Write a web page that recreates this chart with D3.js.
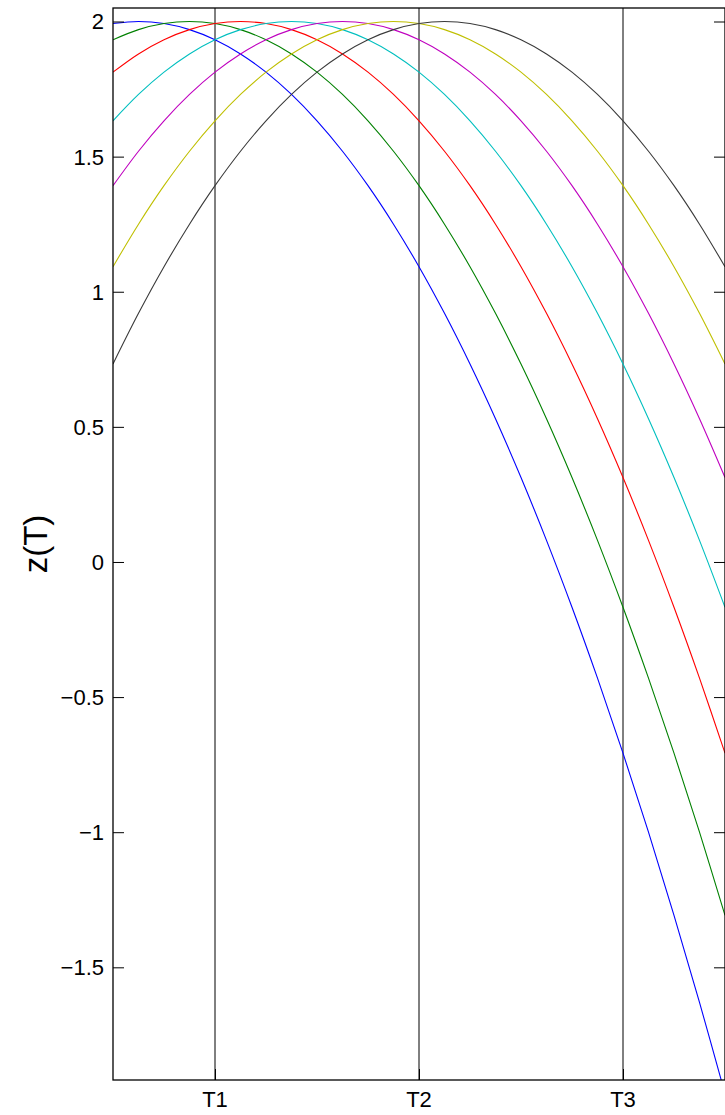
<!DOCTYPE html>
<html>
<head>
<meta charset="utf-8">
<script src="https://cdn.jsdelivr.net/npm/d3@7"></script>
<style>
  html, body { margin: 0; padding: 0; background: #fff; }
  svg { display: block; }
  text { font-family: "Liberation Sans", Arial, Helvetica, sans-serif; fill: #000; }
</style>
</head>
<body>
<svg id="chart" width="725" height="1115"></svg>
<script>
// ---- data ----
const tValues = [0.5, 0.625, 0.75, 0.875, 1, 1.125, 1.25, 1.375, 1.5, 1.625, 1.75, 1.875, 2,
                 2.125, 2.25, 2.375, 2.5, 2.625, 2.75, 2.875, 3, 3.125, 3.25, 3.375, 3.5];
const seriesBlue    = [1.9925, 2.0, 1.9925, 1.97, 1.9325, 1.88, 1.8125, 1.73, 1.6325, 1.52, 1.3925, 1.25, 1.0925, 0.92, 0.7325, 0.53, 0.3125, 0.08, -0.1675, -0.43, -0.7075, -1.0, -1.3075, -1.63, -1.9675];
const seriesGreen   = [1.9325, 1.97, 1.9925, 2.0, 1.9925, 1.97, 1.9325, 1.88, 1.8125, 1.73, 1.6325, 1.52, 1.3925, 1.25, 1.0925, 0.92, 0.7325, 0.53, 0.3125, 0.08, -0.1675, -0.43, -0.7075, -1.0, -1.3075];
const seriesRed     = [1.8125, 1.88, 1.9325, 1.97, 1.9925, 2.0, 1.9925, 1.97, 1.9325, 1.88, 1.8125, 1.73, 1.6325, 1.52, 1.3925, 1.25, 1.0925, 0.92, 0.7325, 0.53, 0.3125, 0.08, -0.1675, -0.43, -0.7075];
const seriesCyan    = [1.6325, 1.73, 1.8125, 1.88, 1.9325, 1.97, 1.9925, 2.0, 1.9925, 1.97, 1.9325, 1.88, 1.8125, 1.73, 1.6325, 1.52, 1.3925, 1.25, 1.0925, 0.92, 0.7325, 0.53, 0.3125, 0.08, -0.1675];
const seriesMagenta = [1.3925, 1.52, 1.6325, 1.73, 1.8125, 1.88, 1.9325, 1.97, 1.9925, 2.0, 1.9925, 1.97, 1.9325, 1.88, 1.8125, 1.73, 1.6325, 1.52, 1.3925, 1.25, 1.0925, 0.92, 0.7325, 0.53, 0.3125];
const seriesYellow  = [1.0925, 1.25, 1.3925, 1.52, 1.6325, 1.73, 1.8125, 1.88, 1.9325, 1.97, 1.9925, 2.0, 1.9925, 1.97, 1.9325, 1.88, 1.8125, 1.73, 1.6325, 1.52, 1.3925, 1.25, 1.0925, 0.92, 0.7325];
const seriesBlack   = [0.7325, 0.92, 1.0925, 1.25, 1.3925, 1.52, 1.6325, 1.73, 1.8125, 1.88, 1.9325, 1.97, 1.9925, 2.0, 1.9925, 1.97, 1.9325, 1.88, 1.8125, 1.73, 1.6325, 1.52, 1.3925, 1.25, 1.0925];
const seriesColors  = ["#0000ff", "#008000", "#ff0000", "#00bfbf", "#bf00bf", "#bfbf00", "#3a3a3a"];
const xTickValues = [1, 2, 3];
const xTickLabels = ["T1", "T2", "T3"];
const yTickValues = [-1.5, -1, -0.5, 0, 0.5, 1, 1.5, 2];
const yLabel = "z(T)";
const xDomain = [0.5, 3.5];
const yDomain = [-1.917, 2.05];

// ---- layout ----
const svg = d3.select("#chart");
const mLeft = 113, mRight = 725, mTop = 8, mBottom = 1080;
const x = d3.scaleLinear().domain(xDomain).range([mLeft, mRight]);
const y = d3.scaleLinear().domain(yDomain).range([mBottom, mTop]);

svg.append("defs").append("clipPath").attr("id", "plotclip")
  .append("rect").attr("x", mLeft).attr("y", mTop).attr("width", mRight - mLeft).attr("height", mBottom - mTop);

const allSeries = [seriesBlue, seriesGreen, seriesRed, seriesCyan, seriesMagenta, seriesYellow, seriesBlack];

// vertical reference lines at T1, T2, T3
svg.append("g").selectAll("line").data(xTickValues).join("line")
  .attr("x1", d => x(d)).attr("x2", d => x(d))
  .attr("y1", mTop).attr("y2", mBottom)
  .attr("stroke", "#000").attr("stroke-width", 1);

// curves
const line = d3.line()
  .x((d, i) => x(tValues[i]))
  .y(d => y(d))
  .curve(d3.curveCatmullRom.alpha(0.5));

svg.append("g").attr("clip-path", "url(#plotclip)")
  .selectAll("path").data(allSeries).join("path")
  .attr("d", d => line(d))
  .attr("fill", "none")
  .attr("stroke", (d, i) => seriesColors[i])
  .attr("stroke-width", 1.1);

// axes (MATLAB style: ticks inward, box)
const tickLen = 11;
const yAxisLeft = d3.axisRight(y).tickValues(yTickValues).tickSize(tickLen).tickFormat("");
svg.append("g").attr("transform", `translate(${mLeft},0)`).call(yAxisLeft)
  .call(g => g.select(".domain").remove())
  .call(g => g.selectAll("line").attr("stroke", "#000"));
const yAxisRight = d3.axisLeft(y).tickValues(yTickValues).tickSize(tickLen).tickFormat("");
svg.append("g").attr("transform", `translate(${mRight},0)`).call(yAxisRight)
  .call(g => g.select(".domain").remove())
  .call(g => g.selectAll("line").attr("stroke", "#000"));

// y tick labels
const fmt = v => (v < 0 ? "\u2212" : "") + d3.format("")(Math.abs(v));
svg.append("g").selectAll("text").data(yTickValues).join("text")
  .attr("x", mLeft - 9)
  .attr("y", d => y(d))
  .attr("dy", "0.36em")
  .attr("text-anchor", "end")
  .attr("font-size", 22)
  .text(d => fmt(d));

// x tick marks (inward, bottom) + labels
const xAxisBottom = d3.axisTop(x).tickValues(xTickValues).tickSize(tickLen).tickFormat("");
svg.append("g").attr("transform", `translate(0,${mBottom})`).call(xAxisBottom)
  .call(g => g.select(".domain").remove());
svg.append("g").selectAll("text").data(xTickValues).join("text")
  .attr("x", d => x(d))
  .attr("y", mBottom + 27)
  .attr("text-anchor", "middle")
  .attr("font-size", 22)
  .text((d, i) => xTickLabels[i]);

// box
svg.append("rect")
  .attr("x", mLeft).attr("y", mTop)
  .attr("width", mRight - mLeft).attr("height", mBottom - mTop)
  .attr("fill", "none").attr("stroke", "#000").attr("stroke-width", 1.3);

// y label
svg.append("text")
  .attr("transform", `translate(47,${(mTop + mBottom) / 2}) rotate(-90)`)
  .attr("text-anchor", "middle")
  .attr("font-size", 33)
  .text(yLabel);
</script>
</body>
</html>
